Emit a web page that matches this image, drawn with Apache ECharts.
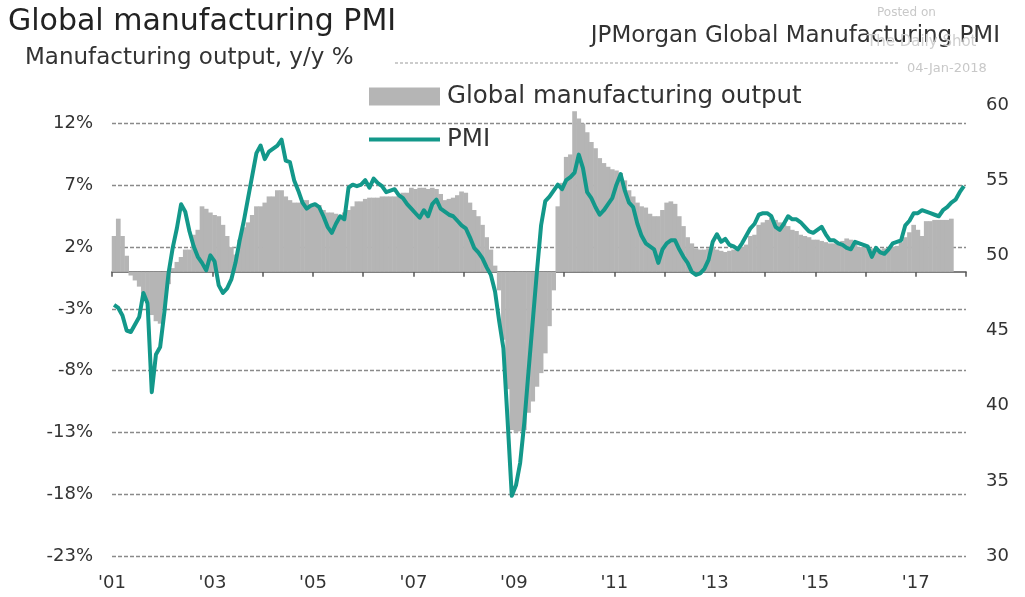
<!DOCTYPE html>
<html>
<head>
<meta charset="utf-8">
<script src="https://cdn.jsdelivr.net/npm/echarts@6/dist/echarts.min.js"></script>
<style>
html,body{margin:0;padding:0;background:#fff;}
#chart{width:1025px;height:597px;}
</style>
</head>
<body>
<div id="chart"></div>
<script>
// ---- data (monthly, starting Jan 2001) ----
const startYear = 2001;
const yearTicks = [2001,2002,2003,2004,2005,2006,2007,2008,2009,2010,2011,2012,2013,2014,2015,2016,2017,2018];
const leftTicks = [-23,-18,-13,-8,-3,2,7,12];
const rightTicks = [30,35,40,45,50,55,60];

// JPMorgan Global Manufacturing PMI, Jan 2001 - Dec 2017
const pmi = [
 46.7,46.5,46.0,45.0,44.9,45.4,45.9,47.5,46.8,40.9,43.4,43.9,
 46.2,48.8,50.5,51.8,53.4,52.9,51.6,50.6,49.9,49.5,49.0,50.0,
 49.6,48.0,47.5,47.8,48.4,49.5,51.0,52.3,53.8,55.3,56.8,57.3,
 56.4,56.9,57.1,57.3,57.7,56.3,56.2,55.0,54.3,53.5,53.1,53.3,
 53.4,53.2,52.6,51.9,51.5,52.1,52.6,52.4,54.5,54.7,54.6,54.7,
 55.0,54.5,55.1,54.8,54.6,54.2,54.3,54.4,54.0,53.8,53.4,53.1,
 52.8,52.5,53.0,52.6,53.4,53.7,53.1,52.9,52.7,52.6,52.3,52.0,
 51.8,51.2,50.5,50.2,49.8,49.2,48.7,47.6,45.6,43.8,39.0,34.0,
 34.7,36.2,38.9,42.3,45.6,48.9,52.0,53.6,53.9,54.3,54.7,54.4,
 55.0,55.2,55.5,56.7,55.8,54.2,53.8,53.2,52.7,53.0,53.4,53.8,
 54.7,55.4,54.3,53.5,53.2,52.1,51.3,50.8,50.6,50.4,49.5,50.4,
 50.8,51.0,51.0,50.4,49.9,49.5,48.9,48.7,48.8,49.1,49.7,50.9,
 51.4,50.9,51.1,50.7,50.6,50.4,50.8,51.3,51.8,52.1,52.7,52.8,
 52.8,52.6,51.9,51.7,52.1,52.6,52.4,52.4,52.2,51.9,51.6,51.5,
 51.7,51.9,51.4,51.0,51.0,50.8,50.7,50.5,50.4,50.9,50.8,50.7,
 50.6,49.9,50.5,50.2,50.1,50.4,50.8,50.9,51.0,52.0,52.3,52.8,
 52.8,53.0,52.9,52.8,52.7,52.6,53.0,53.2,53.5,53.7,54.2,54.6
];

// Global manufacturing output, y/y %, Jan 2001 - Sep 2017
const output = [
 2.9,4.3,2.9,1.3,-0.3,-0.7,-1.2,-1.8,-2.5,-3.5,-4.0,-4.2,
 -3.0,-1.0,0.3,0.8,1.2,1.8,1.8,3.0,3.4,5.3,5.1,4.8,
 4.6,4.5,3.8,2.9,2.0,1.4,2.6,3.6,4.0,4.6,5.3,5.3,
 5.6,6.1,6.1,6.6,6.6,6.1,5.8,5.6,5.6,5.8,5.8,5.4,
 5.4,5.4,5.0,4.8,4.8,4.7,4.5,4.8,5.0,5.3,5.7,5.7,
 5.9,6.0,6.0,6.0,6.1,6.1,6.1,6.1,6.1,6.4,6.4,6.8,
 6.7,6.8,6.8,6.7,6.8,6.7,6.3,5.8,5.9,6.0,6.2,6.5,
 6.4,5.6,5.0,4.5,3.8,2.8,1.8,0.5,-1.5,-5.5,-9.5,-12.8,
 -13.0,-12.9,-12.8,-11.4,-10.5,-9.3,-8.2,-6.6,-4.4,-1.5,5.3,7.2,
 9.3,9.5,13.0,12.4,12.0,11.3,10.5,10.0,9.2,8.8,8.5,8.3,
 8.2,8.0,7.4,6.6,6.1,5.6,5.3,5.2,4.7,4.5,4.5,5.0,
 5.6,5.7,5.5,4.5,3.7,2.8,2.3,1.9,1.8,1.8,1.9,2.0,
 1.8,1.7,1.6,1.7,1.8,1.8,2.0,2.2,2.9,3.0,3.8,4.0,
 4.2,4.4,4.2,4.0,3.9,3.7,3.4,3.3,3.0,2.9,2.8,2.6,
 2.6,2.5,2.4,2.3,2.3,2.3,2.5,2.7,2.6,2.3,2.0,2.0,
 2.0,1.9,1.8,1.8,1.9,1.8,2.0,2.1,2.4,2.8,3.2,3.8,
 3.4,2.9,4.1,4.1,4.2,4.2,4.2,4.2,4.3
];

const seriesNames = ['Global manufacturing output','PMI'];
const titleText = 'Global manufacturing PMI';
const subtitleText = 'Manufacturing output, y/y %';
const rightHeader = 'JPMorgan Global Manufacturing PMI';

// ---- build ----
const monthX = i => startYear + (i + 0.5) / 12;
const pmiData = pmi.map((v, i) => [monthX(i), v]);
const outData = output.map((v, i) => [monthX(i), v]);

const FONT = 'DejaVu Sans';
const LEFT_MIN = leftTicks[0], RIGHT_MIN = rightTicks[0], RIGHT_MAX = rightTicks[rightTicks.length-1];
// left axis top value chosen so both axes share the same pixel extent
const LEFT_MAX = 13.5;
const TEAL = '#13988a';

const chart = echarts.init(document.getElementById('chart'), null, {renderer: 'canvas'});
chart.setOption({
  animation: false,
  backgroundColor: '#fff',
  textStyle: {fontFamily: FONT},
  title: [
    {text: titleText, left: 3, top: 2, textStyle: {fontFamily: FONT, fontSize: 30, fontWeight: 'normal', color: '#222'}},
    {text: subtitleText, left: 20, top: 42, textStyle: {fontFamily: FONT, fontSize: 23, fontWeight: 'normal', color: '#333'}},
    {text: rightHeader, right: 20, top: 20, textStyle: {fontFamily: FONT, fontSize: 23, fontWeight: 'normal', color: '#333'}},
    {text: 'Posted on', left: 872, top: 2, textStyle: {fontFamily: FONT, fontSize: 12, fontWeight: 'normal', color: '#c8c8c8'}},
    {text: 'The Daily Shot', left: 862, top: 30, textStyle: {fontFamily: FONT, fontSize: 15, fontWeight: 'normal', color: '#cfcfcf'}},
    {text: '04-Jan-2018', left: 902, top: 57, textStyle: {fontFamily: FONT, fontSize: 13, fontWeight: 'normal', color: '#c8c8c8'}}
  ],
  graphic: [
    {type: 'line', shape: {x1: 395, y1: 63, x2: 898, y2: 63}, style: {stroke: '#9a9a9a', lineWidth: 1.2, lineDash: [3, 2]}, silent: true}
  ],
  legend: [
    {
      left: 369, top: 84, itemWidth: 71, itemHeight: 18, padding: 0,
      textStyle: {fontFamily: FONT, fontSize: 24.5, color: '#333', padding: [0,0,0,2]},
      data: [{name: seriesNames[0], icon: 'rect'}]
    },
    {
      left: 369, top: 127, itemWidth: 71, itemHeight: 4, padding: 0,
      textStyle: {fontFamily: FONT, fontSize: 24.5, color: '#333', padding: [0,0,0,2]},
      data: [{name: seriesNames[1], icon: 'rect', itemStyle: {color: TEAL}}]
    }
  ],
  grid: {left: 112, right: 59, top: 105, bottom: 41, containLabel: false, outerBoundsMode: 'none'},
  xAxis: {
    type: 'value', min: yearTicks[0], max: yearTicks[yearTicks.length-1], interval: 1,
    axisLine: {onZero: true, lineStyle: {color: '#555', width: 1.5}},
    axisTick: {show: true, length: 5, lineStyle: {color: '#555', width: 1.5}},
    axisLabel: {
      margin: 18, fontFamily: FONT, fontSize: 18, color: '#333',
      formatter: v => (v % 2 === 1 && v < yearTicks[yearTicks.length-1]) ? "'" + String(v).slice(2) : ''
    },
    splitLine: {show: false}
  },
  yAxis: [
    {
      type: 'value', min: LEFT_MIN, max: LEFT_MAX, interval: 5, position: 'left',
      axisLine: {show: false}, axisTick: {show: false},
      axisLabel: {margin: 19, fontFamily: FONT, fontSize: 18, color: '#333',
        formatter: v => leftTicks.indexOf(v) >= 0 ? v + '%' : ''},
      splitLine: {show: true, showMaxLine: false, lineStyle: {color: '#8a8a8a', width: 1.3, type: [4, 2]}}
    },
    {
      type: 'value', min: RIGHT_MIN, max: RIGHT_MAX, interval: 5, position: 'right',
      axisLine: {show: false}, axisTick: {show: false},
      axisLabel: {margin: 20, fontFamily: FONT, fontSize: 18, color: '#333'},
      splitLine: {show: false}
    }
  ],
  series: [
    {
      name: seriesNames[0], type: 'bar', xAxisIndex: 0, yAxisIndex: 0,
      data: outData, barWidth: 4.7, itemStyle: {color: '#b5b5b5'}, z: 2
    },
    {
      name: seriesNames[1], type: 'line', xAxisIndex: 0, yAxisIndex: 1,
      data: pmiData, symbol: 'none', showSymbol: false,
      lineStyle: {color: TEAL, width: 4, join: 'round'}, itemStyle: {color: TEAL}, z: 3
    }
  ]
});
</script>
</body>
</html>
